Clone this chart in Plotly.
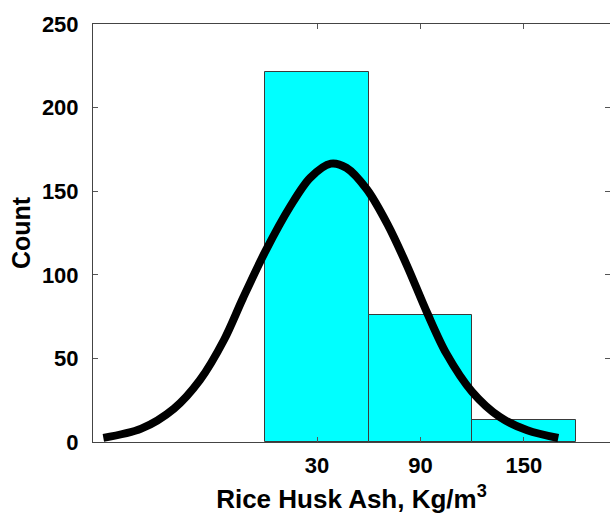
import plotly.graph_objects as go

# Histogram data (bin centres and counts)
bin_centers = [30, 90, 150]
counts = [221, 76, 13]
bin_width = 60

# Fitted distribution curve
curve_x = [-94, -72, -53, -38, -24, -13, 0, 14.5, 26, 38, 47, 59, 71, 82, 94, 105, 120, 136, 152, 170]
curve_y = [2.5, 8, 20, 37, 61, 86, 114, 141, 158, 166.5, 164, 151, 130, 106, 77, 53, 30, 15, 7, 2.4]

x_tick_vals = [30, 90, 150]
x_tick_text = ["30", "90", "150"]
y_tick_vals = [0, 50, 100, 150, 200, 250]

FONT = "Liberation Sans, Arial, sans-serif"

fig = go.Figure()
fig.add_trace(go.Bar(
    x=bin_centers, y=counts, width=[bin_width] * len(counts),
    marker=dict(color="#00FFFF", line=dict(color="#3a3a3a", width=1)),
    showlegend=False, hoverinfo="skip",
))
fig.add_trace(go.Scatter(
    x=curve_x, y=curve_y, mode="lines",
    line=dict(color="black", width=8, shape="spline", smoothing=0.9),
    showlegend=False,
))

fig.update_layout(
    width=610, height=519,
    margin=dict(l=93, r=0, t=24, b=77),
    paper_bgcolor="white", plot_bgcolor="white",
    bargap=0,
    annotations=[dict(
        text="<b>(c)</b>", x=0.425, xref="paper", y=1, yref="paper",
        yshift=24, xanchor="center", yanchor="bottom", showarrow=False,
        font=dict(family=FONT, size=22, color="black"),
    )],
)
fig.update_xaxes(
    range=[-100, 200],
    tickvals=x_tick_vals, ticktext=x_tick_text,
    ticks="inside", ticklen=5, tickcolor="#555555", tickwidth=1,
    showline=True, linecolor="#444444", linewidth=1, mirror="ticks",
    showgrid=False, zeroline=False,
    tickfont=dict(family=FONT, size=22, color="black", weight="bold"),
    ticklabelstandoff=4,
    title=dict(text="Rice Husk Ash, Kg/m<sup>3</sup>",
               font=dict(family=FONT, size=26, color="black", weight="bold"),
               standoff=12),
)
fig.update_yaxes(
    range=[0, 250],
    tickvals=y_tick_vals,
    ticks="inside", ticklen=5, tickcolor="#555555", tickwidth=1,
    showline=True, linecolor="#444444", linewidth=1, mirror="ticks",
    showgrid=False, zeroline=False,
    tickfont=dict(family=FONT, size=22, color="black", weight="bold"),
    ticklabelstandoff=9,
    title=dict(text="Count",
               font=dict(family=FONT, size=25, color="black", weight="bold"),
               standoff=4),
)

fig.write_html("out.html")
